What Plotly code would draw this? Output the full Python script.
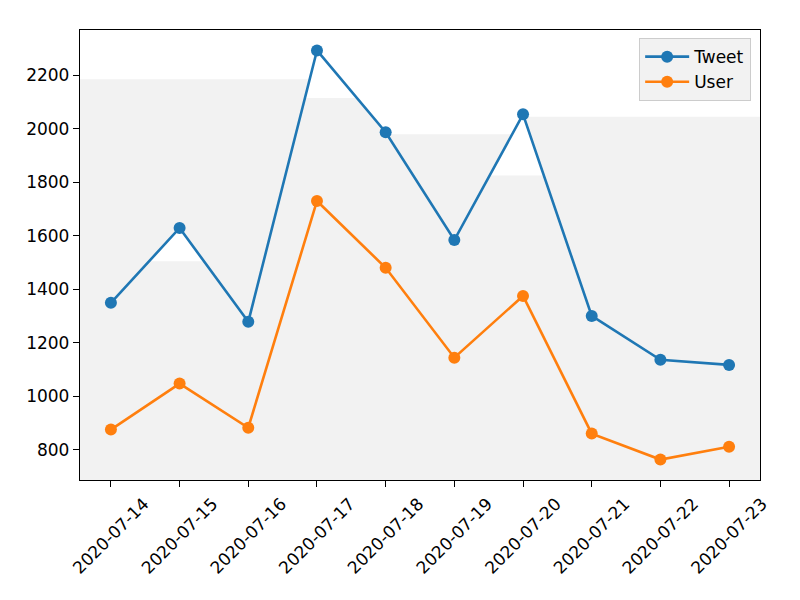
import plotly.graph_objects as go
import pandas as pd

# ---- data ----
dates = ["2020-07-14", "2020-07-15", "2020-07-16", "2020-07-17", "2020-07-18",
         "2020-07-19", "2020-07-20", "2020-07-21", "2020-07-22", "2020-07-23"]
tweet = [1349, 1629, 1278, 2293, 1987, 1584, 2054, 1300, 1136, 1117]
user = [875, 1047, 882, 1730, 1480, 1144, 1375, 860, 763, 811]

# background band levels (light grey stepped area behind the lines)
band_levels = [2185, 2115, 1980, 1825, 2045]
notch_level = 1505

BLUE = "#1f77b4"
ORANGE = "#ff7f0e"
GREY = "#f2f2f2"
FONT = "DejaVu Sans"

base = pd.Timestamp(dates[0])
day = pd.Timedelta(days=1)
n = len(dates)

lo = min(min(tweet), min(user))
hi = max(max(tweet), max(user))
pad = 0.05 * (hi - lo)
y0, y1 = lo - pad, hi + pad
xpad = 0.05 * (n - 1)
x_left, x_right = -xpad, (n - 1) + xpad


def T(t):
    return base + t * day


def cross(i, level):
    f = (level - tweet[i]) / (tweet[i + 1] - tweet[i])
    return i + f


# build grey polygon in (day-offset, value) space
L1, L2, L3, L4, L5 = band_levels
pts = [(x_left, y0), (x_left, L1),
       (cross(2, L1), L1), (cross(2, L2), L2),
       (cross(3, L2), L2), (4, tweet[4]), (cross(4, L3), L3),
       (cross(5, L3), L3), (cross(5, L4), L4),
       (cross(6, L4), L4), (cross(6, L5), L5),
       (x_right, L5), (x_right, y0), (x_left, y0)]
notch = [(cross(0, notch_level), notch_level), (1, tweet[1]),
         (cross(1, notch_level), notch_level), (cross(0, notch_level), notch_level)]

fig = go.Figure()
fig.add_trace(go.Scatter(
    x=[T(p[0]) for p in pts], y=[p[1] for p in pts], mode="lines",
    fill="toself", fillcolor=GREY, line=dict(width=0, color=GREY),
    hoverinfo="skip", showlegend=False))
fig.add_trace(go.Scatter(
    x=[T(p[0]) for p in notch], y=[p[1] for p in notch], mode="lines",
    fill="toself", fillcolor="white", line=dict(width=0, color="white"),
    hoverinfo="skip", showlegend=False))

xd = pd.to_datetime(dates)
fig.add_trace(go.Scatter(x=xd, y=tweet, mode="lines+markers", name="Tweet",
                         line=dict(color=BLUE, width=2.6),
                         marker=dict(color=BLUE, size=12)))
fig.add_trace(go.Scatter(x=xd, y=user, mode="lines+markers", name="User",
                         line=dict(color=ORANGE, width=2.6),
                         marker=dict(color=ORANGE, size=12)))

fig.update_layout(
    width=800, height=600,
    margin=dict(l=80, r=40, t=30, b=120),
    paper_bgcolor="white", plot_bgcolor="white",
    font=dict(family=FONT, size=17, color="black"),
    legend=dict(x=0.987, xanchor="right", y=0.982, yanchor="top",
                bgcolor=GREY, bordercolor="#cccccc", borderwidth=1,
                font=dict(size=17), itemwidth=44, traceorder="normal"),
    xaxis=dict(type="date", range=[T(x_left), T(x_right)],
               tick0=dates[0], dtick=86400000, tickformat="%Y-%m-%d",
               tickangle=-45, ticks="outside", ticklen=6, tickwidth=1.4,
               tickcolor="black", showline=True, mirror=True,
               linecolor="black", linewidth=1.4, showgrid=False,
               zeroline=False, ticklabelshift=33),
    yaxis=dict(range=[y0, y1], dtick=200, tick0=0, ticks="outside",
               ticklen=6, tickwidth=1.4, tickcolor="black", showline=True,
               mirror=True, linecolor="black", linewidth=1.4,
               showgrid=False, zeroline=False),
)

fig.write_html("out.html")
